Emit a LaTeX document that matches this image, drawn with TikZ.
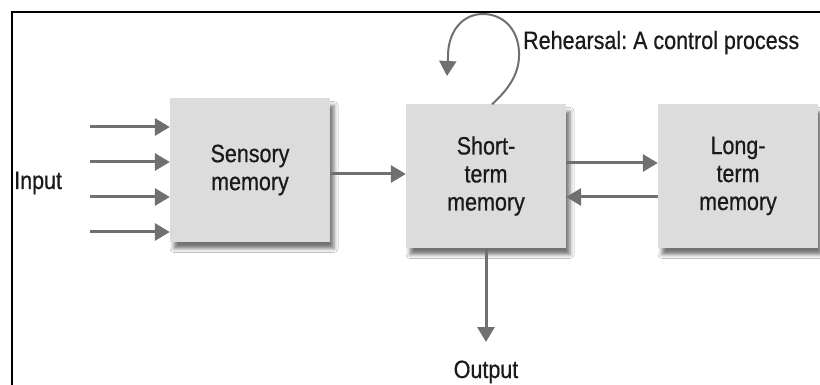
\documentclass[tikz,border=0pt]{standalone}
\usepackage{fontspec}
\setmainfont{Liberation Sans}[FakeStretch=0.86, FakeBold=0.6]
\usetikzlibrary{arrows.meta,shadows.blur}
\definecolor{linegray}{HTML}{707070}
\definecolor{boxfill}{HTML}{DCDCDC}
\definecolor{ink}{HTML}{1A1A1A}
\begin{document}
\begin{tikzpicture}[x=1pt,y=-1pt,
  memstore/.style={fill=boxfill, draw=none, minimum width=160pt, minimum height=143pt,
    inner sep=0pt, align=center, text=ink, font=\fontsize{25}{28}\selectfont,
    blur shadow={shadow xshift=4pt, shadow yshift=-7pt, shadow blur radius=4pt, shadow opacity=55}},
  label/.style={text=ink, inner sep=0pt, font=\fontsize{25}{28}\selectfont},
  flow/.style={draw=linegray, line width=3pt, -{Triangle[length=15pt,width=17pt]}, color=linegray}]
  \useasboundingbox (0,0) rectangle (820,385);
  \fill[white] (0,0) rectangle (820,385);
  % frame along the left and top edges
  \draw[line width=2.2pt] (12,386) -- (12,12) -- (821,12);

  % memory stores
  \node[memstore] (sens) at (250,170) {Sensory\\memory};
  \node[memstore] (stm) at (486,176) {Short-\\term\\memory};
  \node[memstore] (ltm) at (738,176) {Long-\\term\\memory};

  % labels
  \node[label, anchor=base west] (inlbl) at (14,189) {Input};
  \node[label, anchor=base] (outlbl) at (486,378) {Output};
  \node[label, anchor=base west] (rehlbl) at (523,49) {Rehearsal:\hspace{-2pt} A control process};

  % sensory input
  \foreach \i/\y in {1/127,2/162,3/197,4/232}{
    \coordinate (in\i) at (90,\y);
    \draw[flow] (in\i) -- (in\i -| sens.west);
  }

  % transfers between stores
  \draw[flow] (sens.east |- 0,174) -- (stm.west |- 0,174);
  \draw[flow] (stm.east |- 0,163) -- (ltm.west |- 0,163);
  \draw[flow] (ltm.west |- 0,197) -- (stm.east |- 0,197);

  % output
  \coordinate (outtip) at (486,342);
  \draw[flow] (stm.south) -- (outtip);

  % rehearsal loop
  \coordinate (loopstart) at (stm.north -| 492,0);
  \coordinate (looptip) at (447,76);
  \draw[flow, line width=2pt] (loopstart) .. controls (510,88) and (520,72) .. (519,52)
    .. controls (518,28) and (502,14) .. (483,14)
    .. controls (462,14) and (448,32) .. (448,56) -- (looptip);
\end{tikzpicture}
\end{document}
